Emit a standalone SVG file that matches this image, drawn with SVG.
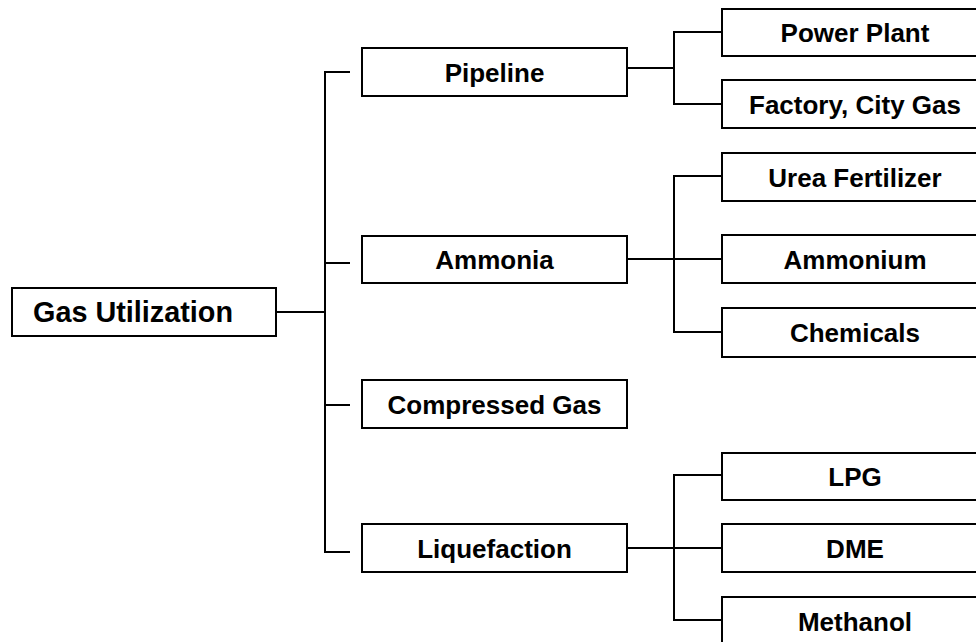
<svg xmlns="http://www.w3.org/2000/svg" width="976" height="642" viewBox="0 0 976 642">
  <style>
    .box { fill: #ffffff; stroke: #000000; stroke-width: 2; }
    .lbl { font-family: "Liberation Sans", Arial, sans-serif; font-weight: bold; font-size: 26px; fill: #000000; text-anchor: middle; }
    .root { font-size: 28.8px; text-anchor: start; }
    .wire { fill: none; stroke: #000000; stroke-width: 2; }
  </style>
  <rect width="976" height="642" fill="#ffffff"/>

  <!-- connectors -->
  <g id="connectors" class="wire">
    <!-- root to first level -->
    <path d="M276 312 H325"/>
    <path d="M350 72 H325 V552 H350"/>
    <path d="M325 263 H350"/>
    <path d="M325 405 H350"/>
    <!-- Pipeline branch -->
    <path d="M627 68 H674"/>
    <path d="M722 32 H674 V104 H722"/>
    <!-- Ammonia branch -->
    <path d="M627 259 H722"/>
    <path d="M722 176 H674 V332 H722"/>
    <!-- Liquefaction branch -->
    <path d="M627 548 H722"/>
    <path d="M722 475 H674 V620 H722"/>
  </g>

  <!-- root -->
  <g id="gas-utilization">
    <rect class="box" x="12" y="288" width="264" height="48"/>
    <text class="lbl root" x="33" y="322">Gas Utilization</text>
  </g>

  <!-- first level -->
  <g id="pipeline">
    <rect class="box" x="362" y="48" width="265" height="48"/>
    <text class="lbl" x="494.5" y="82">Pipeline</text>
  </g>
  <g id="ammonia">
    <rect class="box" x="362" y="236" width="265" height="47"/>
    <text class="lbl" x="494.5" y="269">Ammonia</text>
  </g>
  <g id="compressed-gas">
    <rect class="box" x="362" y="380" width="265" height="48"/>
    <text class="lbl" x="494.5" y="414">Compressed Gas</text>
  </g>
  <g id="liquefaction">
    <rect class="box" x="362" y="524" width="265" height="48"/>
    <text class="lbl" x="494.5" y="558">Liquefaction</text>
  </g>

  <!-- second level -->
  <g id="power-plant">
    <rect class="box" x="722" y="9" width="268" height="47"/>
    <text class="lbl" x="855" y="42">Power Plant</text>
  </g>
  <g id="factory-city-gas">
    <rect class="box" x="722" y="80" width="268" height="48"/>
    <text class="lbl" x="855" y="114">Factory, City Gas</text>
  </g>
  <g id="urea-fertilizer">
    <rect class="box" x="722" y="153" width="268" height="48"/>
    <text class="lbl" x="855" y="187">Urea Fertilizer</text>
  </g>
  <g id="ammonium">
    <rect class="box" x="722" y="235" width="268" height="48"/>
    <text class="lbl" x="855" y="269">Ammonium</text>
  </g>
  <g id="chemicals">
    <rect class="box" x="722" y="308" width="268" height="49"/>
    <text class="lbl" x="855" y="342">Chemicals</text>
  </g>
  <g id="lpg">
    <rect class="box" x="722" y="453" width="268" height="47"/>
    <text class="lbl" x="855" y="486">LPG</text>
  </g>
  <g id="dme">
    <rect class="box" x="722" y="524" width="268" height="48"/>
    <text class="lbl" x="855" y="558">DME</text>
  </g>
  <g id="methanol">
    <rect class="box" x="722" y="597" width="268" height="48"/>
    <text class="lbl" x="855" y="631">Methanol</text>
  </g>
</svg>
